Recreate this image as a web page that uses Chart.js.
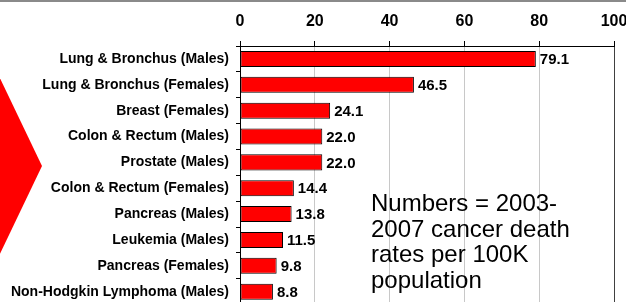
<!DOCTYPE html>
<html>
<head>
<meta charset="utf-8">
<script src="https://cdn.jsdelivr.net/npm/chart.js@4/dist/chart.umd.min.js"></script>
<style>
  html, body { margin: 0; padding: 0; background: #fff; overflow: hidden; }
  #wrap { position: relative; width: 626px; height: 320px; }
  #note { position: absolute; left: 371px; top: 190px; font-family: "Liberation Sans", Arial, sans-serif;
          font-size: 24px; line-height: 25.5px; color: #000; white-space: nowrap; }
</style>
</head>
<body>
<div id="wrap">
  <canvas id="c" width="626" height="320"></canvas>
  <div id="note">Numbers = 2003-<br>2007 cancer death<br>rates per 100K<br>population</div>
</div>
<script>
const categories = [
  "Lung & Bronchus (Males)",
  "Lung & Bronchus (Females)",
  "Breast (Females)",
  "Colon & Rectum (Males)",
  "Prostate (Males)",
  "Colon & Rectum (Females)",
  "Pancreas (Males)",
  "Leukemia (Males)",
  "Pancreas (Females)",
  "Non-Hodgkin Lymphoma (Males)"
];
const deathRates = [79.1, 46.5, 24.1, 22.0, 22.0, 14.4, 13.8, 11.5, 9.8, 8.8];
const xTickValues = [0, 20, 40, 60, 80, 100];

const FONT = '"Liberation Sans", Arial, sans-serif';

const decor = {
  id: 'decor',
  beforeDraw(chart) {
    const ctx = chart.ctx;
    ctx.save();
    // gray top rule
    ctx.fillStyle = '#8a8a8a';
    ctx.fillRect(0, 0, chart.width, 2);
    // red arrow shape
    ctx.fillStyle = '#ff0000';
    ctx.beginPath();
    ctx.moveTo(-2, 74);
    ctx.lineTo(42, 166);
    ctx.lineTo(-2, 258);
    ctx.closePath();
    ctx.fill();
    ctx.restore();
  },
  afterDatasetsDraw(chart) {
    const ctx = chart.ctx;
    const meta = chart.getDatasetMeta(0);
    ctx.save();
    ctx.font = 'bold 15px ' + FONT;
    ctx.fillStyle = '#000';
    ctx.textAlign = 'left';
    ctx.textBaseline = 'middle';
    meta.data.forEach((bar, i) => {
      ctx.fillText(deathRates[i].toFixed(1), bar.x + 4, bar.y + 1);
    });
    ctx.restore();
  }
};

new Chart(document.getElementById('c'), {
  type: 'bar',
  data: {
    labels: categories,
    datasets: [{
      data: deathRates,
      backgroundColor: '#ff0000',
      borderColor: '#000000',
      borderWidth: 1,
      borderSkipped: false,
      barPercentage: 0.62,
      categoryPercentage: 1.0
    }]
  },
  options: {
    indexAxis: 'y',
    responsive: false,
    animation: false,
    devicePixelRatio: 1,
    layout: { padding: { left: 0, right: 12, top: 0, bottom: 14 } },
    plugins: { legend: { display: false }, tooltip: { enabled: false } },
    scales: {
      x: {
        position: 'top',
        min: 0, max: 100,
        afterBuildTicks(scale) { scale.ticks = xTickValues.map(v => ({ value: v })); },
        afterFit(scale) { scale.height = 46; scale.paddingLeft = 0; scale.paddingRight = 0; },
        ticks: {
          font: { family: FONT, size: 16, weight: 'bold' },
          color: '#000',
          padding: 10,
          maxRotation: 0,
          autoSkip: false
        },
        grid: {
          color: (c) => (c.tick && c.tick.value === 100) ? '#404040' : '#c8c8c8',
          tickColor: '#000',
          tickLength: 5,
          lineWidth: 1
        },
        border: { color: '#000', width: 1 }
      },
      y: {
        afterFit(scale) { scale.width = 240; },
        ticks: {
          font: { family: FONT, size: 14, weight: 'bold' },
          color: '#000',
          padding: 7,
          autoSkip: false
        },
        grid: {
          offset: true,
          drawOnChartArea: false,
          tickColor: '#000',
          tickLength: 4
        },
        border: { color: '#000', width: 1 }
      }
    }
  },
  plugins: [decor]
});
</script>
</body>
</html>
